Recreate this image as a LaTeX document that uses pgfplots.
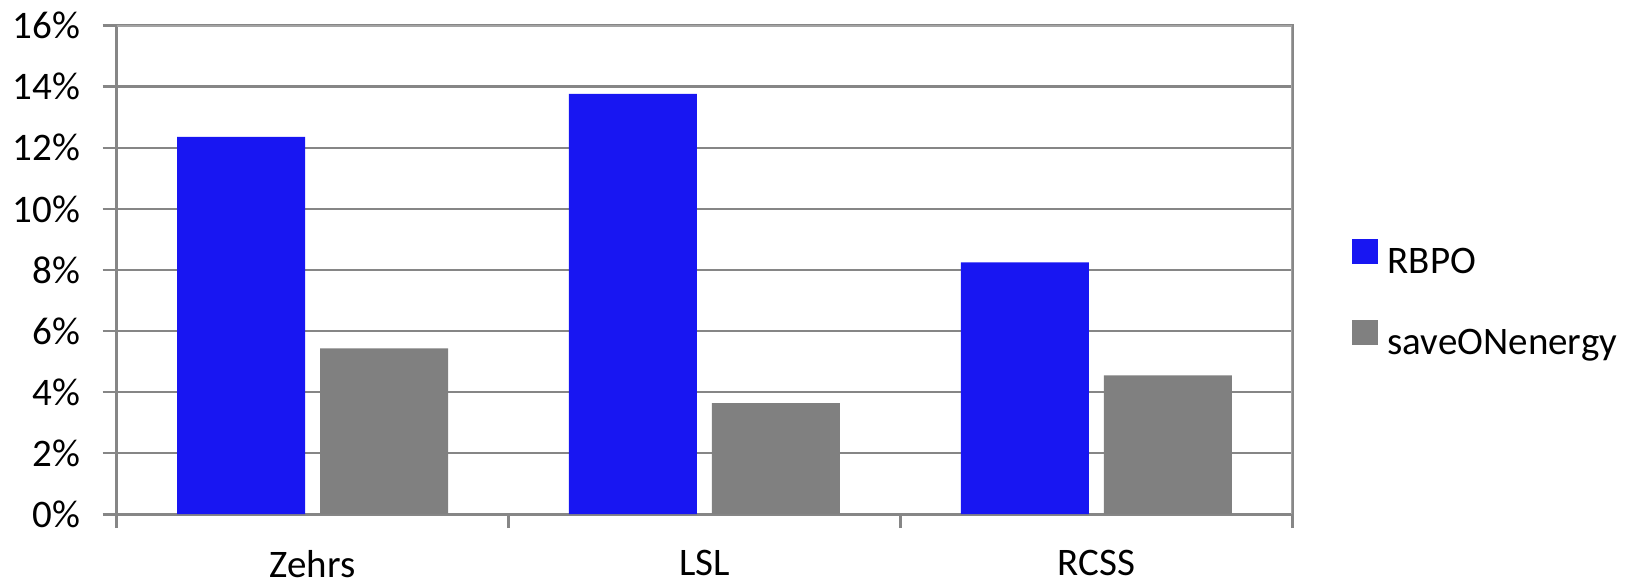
\documentclass[border=0pt]{standalone}
\usepackage{fontspec}
\setmainfont{Carlito}
\usepackage{pgfplots}
\pgfplotsset{compat=1.18}
\definecolor{barblue}{HTML}{1816F2}
\definecolor{bargray}{HTML}{808080}
\definecolor{gridgray}{HTML}{868686}
\definecolor{bordergray}{HTML}{A3A3A3}
\begin{document}
\fontsize{19.5pt}{23pt}\selectfont
\begin{tikzpicture}
\begin{axis}[
  at={(0,0)}, anchor=south west,
  scale only axis, width=587.75pt, height=244.25pt,
  ybar=7.5pt, bar width=64pt,
  xmin=-0.5, xmax=2.5, ymin=0, ymax=16,
  xtick={-0.5,0.5,1.5,2.5},
  x tick label as interval,
  xticklabels={Zehrs,LSL,RCSS},
  ytick={0,2,...,16},
  yticklabel={\pgfmathprintnumber{\tick}\%},
  /pgf/number format/assume math mode=true,
  ymajorgrids, grid style={gridgray, line width=1.3pt},
  axis line style={gridgray, line width=1.3pt},
  tick style={gridgray, line width=1.3pt},
  tick align=outside, tick pos=left,
  major tick length=7pt,
  x tick label style={font=\fontsize{19.5pt}{23pt}\selectfont, inner sep=0pt, yshift=-11pt},
  y tick label style={font=\fontsize{19.5pt}{23pt}\selectfont, xshift=-4.5pt},
  legend style={at={(1.0506,0.4364)}, anchor=west, draw=none, fill=none,
    inner sep=0pt, row sep=19pt,
    nodes={inner sep=0pt, text height=14pt, text depth=4.5pt, font=\fontsize{19.5pt}{23pt}\selectfont}},
  legend cell align=left,
]
\addplot[fill=barblue, draw=none,
  legend image code/.code={\fill[barblue] (0pt,-0.2pt) rectangle (13pt,12.3pt); \path (17.8pt,0pt);}]
  coordinates {(0,12.36) (1,13.77) (2,8.25)};
\addplot[fill=bargray, draw=none,
  legend image code/.code={\fill[bargray] (0pt,-0.2pt) rectangle (13pt,12.3pt); \path (17.8pt,0pt);}]
  coordinates {(0,5.43) (1,3.64) (2,4.55)};
\legend{RBPO,saveONenergy}
\draw[bordergray, line width=1.1pt] (rel axis cs:0,1) -- (rel axis cs:1,1) -- (rel axis cs:1,0);
\end{axis}
\pgfresetboundingbox
\path[use as bounding box] (-58.35pt,-35.4pt) rectangle (758.65pt,257.1pt);
\end{tikzpicture}
\end{document}
